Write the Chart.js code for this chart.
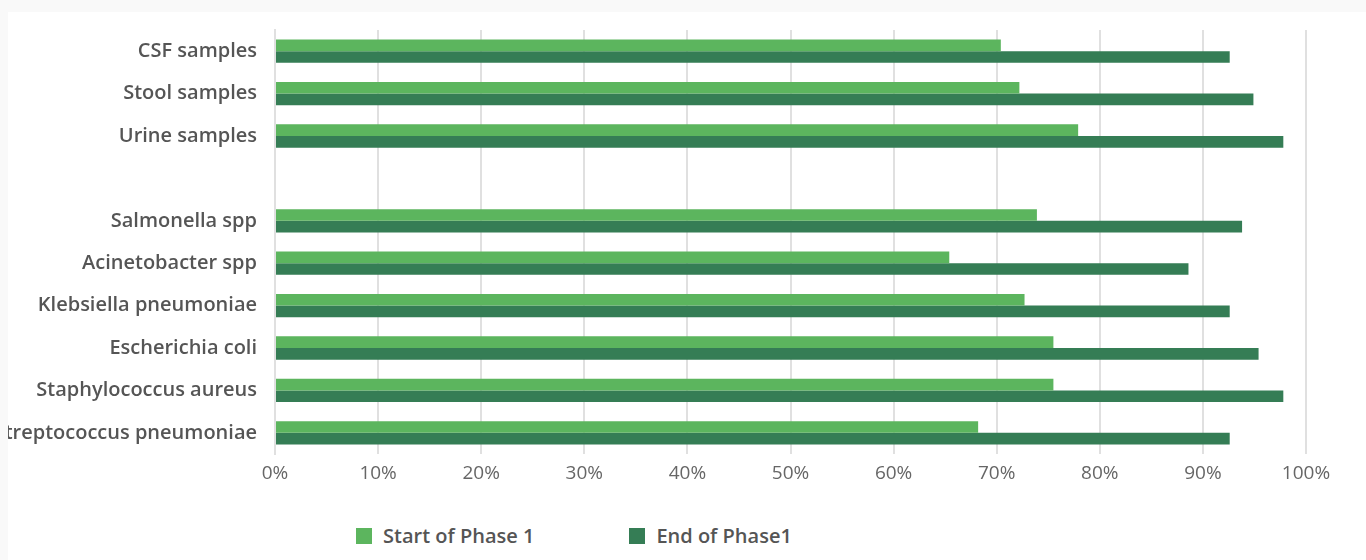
<!DOCTYPE html>
<html>
<head>
<meta charset="utf-8">
<script src="https://cdn.jsdelivr.net/npm/chart.js@4.4.1/dist/chart.umd.min.js"></script>
<style>
  html, body { margin: 0; padding: 0; background: #f9f9f9; width: 1366px; height: 560px; overflow: hidden; }
  #panel { position: absolute; left: 8px; top: 12px; width: 1358px; height: 560px; background: #ffffff; }
  #wrap { position: absolute; left: 0; top: 0; width: 1358px; height: 479px; }
  #legend { position: absolute; top: 510px; left: 348px; font-family: 'Open Sans', sans-serif; font-weight: 600; font-size: 20px; color: #555; display: flex; }
  .item { display: flex; align-items: center; }
  .box { width: 16px; height: 16px; margin-right: 11px; }
</style>
</head>
<body>
<div id="panel">
  <div id="wrap"><canvas id="c"></canvas></div>
  <div id="legend"></div>
</div>
<script>
const categories = ["CSF samples", "Stool samples", "Urine samples", "", "Salmonella spp", "Acinetobacter spp", "Klebsiella pneumoniae", "Escherichia coli", "Staphylococcus aureus", "Streptococcus pneumoniae"];
const seriesNames = ["Start of Phase 1", "End of Phase1"];
const startPhase1 = [70.4, 72.2, 77.9, null, 73.9, 65.4, 72.7, 75.5, 75.5, 68.2];
const endPhase1 = [92.6, 94.9, 97.8, null, 93.8, 88.6, 92.6, 95.4, 97.8, 92.6];
const xTicks = [0, 10, 20, 30, 40, 50, 60, 70, 80, 90, 100];
const colors = ["#5cb55e", "#357d55"];

const ctx = document.getElementById('c');
const chart = new Chart(ctx, {
  type: 'bar',
  data: {
    labels: categories,
    datasets: [
      { label: seriesNames[0], data: startPhase1, backgroundColor: colors[0], categoryPercentage: 0.55, barPercentage: 1.0 },
      { label: seriesNames[1], data: endPhase1, backgroundColor: colors[1], categoryPercentage: 0.55, barPercentage: 1.0 }
    ]
  },
  options: {
    indexAxis: 'y',
    responsive: true,
    maintainAspectRatio: false,
    animation: false,
    layout: { padding: { top: 18, right: 60, left: 0, bottom: 0 } },
    plugins: { legend: { display: false }, tooltip: { enabled: false } },
    scales: {
      x: {
        min: 0, max: 100,
        afterBuildTicks: (axis) => { axis.ticks = xTicks.map(v => ({ value: v })); },
        afterFit: (axis) => { axis.height = 37; axis.paddingLeft = 0; axis.paddingRight = 0; },
        grid: { color: '#e0e0e0', lineWidth: 2, drawTicks: false },
        border: { display: false },
        ticks: { color: '#666', padding: 8, font: { family: "'Open Sans', sans-serif", size: 19 }, callback: (v) => v + '%' }
      },
      y: {
        afterFit: (axis) => { axis.width = 267; axis.paddingTop = 0; axis.paddingBottom = 0; },
        grid: { display: false, drawTicks: false },
        border: { display: true, color: '#e0e0e0', width: 2 },
        ticks: { color: '#555', padding: 18, autoSkip: false, font: { family: "'Open Sans', sans-serif", size: 20, weight: 600 } }
      }
    }
  }
});

const legend = document.getElementById('legend');
seriesNames.forEach((name, i) => {
  const it = document.createElement('div');
  it.className = 'item';
  it.style.marginRight = i === 0 ? '95px' : '0';
  const b = document.createElement('span');
  b.className = 'box';
  b.style.background = colors[i];
  const t = document.createElement('span');
  t.textContent = name;
  it.appendChild(b); it.appendChild(t);
  legend.appendChild(it);
});
</script>
</body>
</html>
